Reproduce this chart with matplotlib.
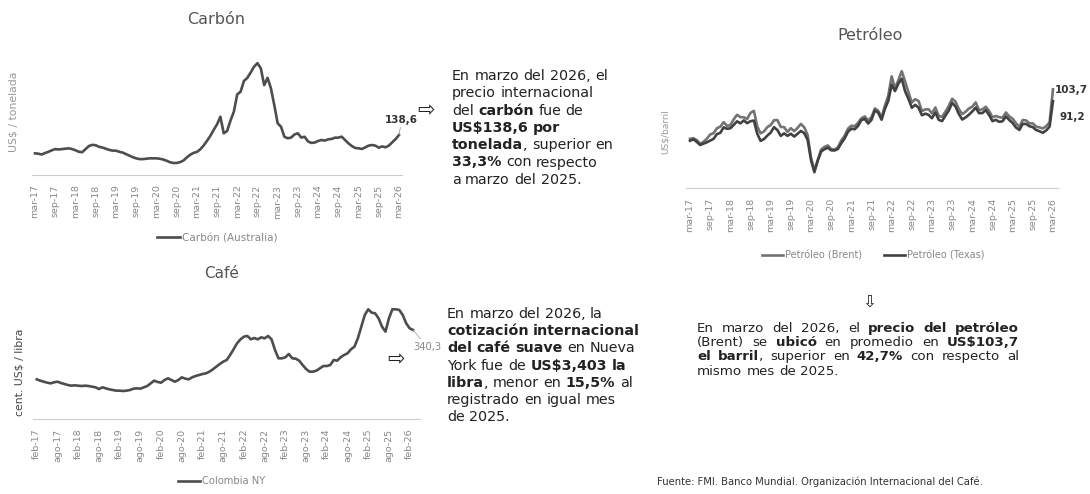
import numpy as np
import matplotlib.pyplot as plt
from matplotlib.font_manager import FontProperties

W, H = 1090, 494

# etiquetas del eje x (cada 6 meses)
carbon_ticks = ['mar-17', 'sep-17', 'mar-18', 'sep-18', 'mar-19', 'sep-19', 'mar-20',
                'sep-20', 'mar-21', 'sep-21', 'mar-22', 'sep-22', 'mar-23', 'sep-23',
                'mar-24', 'sep-24', 'mar-25', 'sep-25', 'mar-26']
cafe_ticks = ['feb-17', 'ago-17', 'feb-18', 'ago-18', 'feb-19', 'ago-19', 'feb-20',
              'ago-20', 'feb-21', 'ago-21', 'feb-22', 'ago-22', 'feb-23', 'ago-23',
              'feb-24', 'ago-24', 'feb-25', 'ago-25', 'feb-26']
petro_ticks = carbon_ticks

# Carbon (Australia), US$/tonelada, mar-17 .. mar-26
carbon = [91, 90, 88, 92, 95, 99, 102, 101, 102, 103, 104, 102,
          99, 95, 94, 102, 110, 113, 112, 108, 106, 103, 100, 98,
          98, 95, 93, 89, 85, 81, 78, 76, 76, 77, 78, 78,
          78, 77, 75, 72, 68, 66, 66, 68, 72, 80, 87, 92,
          94.5, 101, 111, 123, 136, 151.6, 166, 186, 143, 149, 176, 199,
          244, 251, 279, 287, 301, 316, 325, 312, 268, 287, 260, 216,
          169, 160, 134, 130, 132, 140, 143, 132, 134, 122, 118, 119,
          123, 125.6, 124, 127.4, 128.2, 131.7, 131.7, 134.3, 125.6, 117, 110, 105,
          104, 102.3, 106.6, 111, 112.6, 111, 105.7, 109, 106.6, 111, 119.6, 128,
          138.6]

# Cafe Colombia NY, cent. US$/libra, feb-17 .. mar-26
cafe = [162.7, 157.9, 154.3, 150.7, 148.3, 152.1, 154.3, 149.5, 145.9, 142.3, 139.9, 141.1,
        139.9, 138.7, 139.9, 138.7, 136.3, 134.0, 128.0, 134.0, 130.3, 126.7, 124.3, 122.0,
        122.0, 120.8, 122.0, 124.3, 129.1, 130.3, 129.1, 134.0, 138.7, 148.3, 157.9, 153.1,
        150.7, 160.3, 166.3, 160.3, 154.3, 160.3, 169.9, 165.1, 162.7, 169.9, 174.7, 178.3,
        181.9, 184.3, 190.3, 198.7, 208.3, 217.9, 226.3, 232.3, 250.3, 270.7, 292.3, 306.7,
        316.3, 318.7, 306.7, 311.5, 306.7, 313.9, 310.3, 318.7, 306.7, 268.3, 238.3, 238.3,
        241.9, 253.9, 238.3, 237.1, 229.9, 214.3, 199.9, 190.3, 190.3, 193.9, 202.3, 210.7,
        210.7, 214.3, 232.3, 229.9, 241.9, 250.3, 256.3, 270.7, 280.3, 310.3, 352.3, 394.3,
        414.7, 402.7, 400.3, 382.3, 352.3, 334.3, 382.3, 414.7, 414.7, 412.3, 394.3, 364.3,
        346.3, 340.3]

# Petroleo, US$/barril, mar-17 .. mar-26
brent = [51.6, 52.3, 50.3, 46.4, 48.5, 51.7, 56.2, 57.5, 62.7, 64.4,
         69.1, 65.3, 66.0, 72.1, 76.9, 74.4, 74.3, 72.5, 78.9, 81.0, 64.8, 57.4,
         59.4, 64.0, 66.1, 71.2, 71.3, 64.2, 63.9, 59.0, 62.8, 59.7, 63.2, 67.3,
         63.7, 55.7, 32.0, 18.4, 29.4, 40.3, 43.2, 44.7, 40.9, 40.2, 42.7, 49.9,
         54.8, 62.3, 65.4, 64.8, 68.5, 73.2, 75.2, 70.8, 74.5, 83.5, 81.1, 74.2,
         86.5, 97.1, 117.3, 104.6, 113.3, 122.7, 111.9, 100.5, 89.8, 93.3, 91.4, 80.9,
         82.5, 82.6, 78.4, 84.6, 75.5, 74.8, 80.1, 86.2, 93.7, 90.6, 82.9, 77.6,
         80.1, 83.5, 85.4, 89.9, 81.8, 82.6, 85.3, 80.9, 74.3, 75.6, 74.4, 73.8,
         79.3, 75.2, 72.7, 68.0, 64.2, 71.4, 71.0, 67.9, 67.9, 64.5, 63.6, 62.5,
         65.0, 69.0, 103.7]
texas = [49.6, 51.1, 48.5, 45.2, 46.6, 48.0, 49.8, 51.6, 56.6, 57.9,
         63.7, 62.2, 62.7, 66.3, 70.0, 67.9, 71.0, 68.1, 70.2, 70.8, 57.0, 49.5,
         51.4, 55.0, 58.2, 63.9, 60.8, 54.7, 57.4, 54.8, 57.0, 54.0, 57.0, 59.9,
         57.5, 50.5, 29.2, 16.6, 28.6, 38.3, 40.7, 42.3, 39.6, 39.4, 41.0, 47.0,
         52.0, 59.0, 62.3, 61.7, 65.2, 71.4, 72.5, 67.7, 71.6, 81.5, 79.2, 71.7,
         83.2, 91.6, 108.5, 101.8, 109.6, 114.8, 101.6, 93.7, 84.3, 87.3, 84.4, 76.4,
         78.1, 76.8, 73.3, 79.4, 71.6, 70.3, 76.0, 81.3, 89.4, 85.6, 77.7, 71.9,
         74.1, 77.0, 80.4, 84.4, 78.6, 78.7, 81.8, 76.7, 70.2, 71.6, 69.5, 70.1,
         75.1, 71.5, 68.2, 63.5, 61.0, 67.3, 67.3, 64.9, 63.9, 60.9, 59.6, 58.0,
         60.5, 64.5, 91.2]

fig = plt.figure(figsize=(10.9, 4.94), dpi=100)
fig.patch.set_facecolor('white')


def box(l, t, r, b):
    return [l / W, 1 - b / H, (r - l) / W, (b - t) / H]


def fx(x):
    return x / W


def fy(y):
    return 1 - y / H


def grafico(rect, series, colores, nombres, xlim, ylim, etiquetas):
    ax = fig.add_axes(rect)
    for v, c, n in zip(series, colores, nombres):
        ax.plot(np.arange(len(v)), v, color=c, lw=1.9, label=n, solid_joinstyle='round')
    ax.set_xlim(*xlim)
    ax.set_ylim(*ylim)
    ax.set_xticks(np.arange(0, 6 * len(etiquetas), 6))
    ax.set_xticklabels(etiquetas, rotation=90, fontsize=6.8, color='#888888')
    ax.tick_params(axis='x', length=0, pad=7)
    ax.set_yticks([])
    for s in ['top', 'right', 'left']:
        ax.spines[s].set_visible(False)
    ax.spines['bottom'].set_color('#cccccc')
    ax.spines['bottom'].set_linewidth(0.8)
    ax.spines['bottom'].set_linestyle((0, (2, 1)))
    ax.patch.set_alpha(0)
    return ax


# ---- Carbon
ax1 = grafico(box(32, 55.5, 402, 174.9), [carbon], ['#4d4d4d'], ['Carbón (Australia)'],
              (-0.9, 108.9), (35, 345), carbon_ticks)
ax1.annotate('138,6', xy=(len(carbon) - 1, carbon[-1]), xytext=(2, 11), textcoords='offset points',
             ha='center', va='center', fontsize=7.5, fontweight='bold', color='#333333',
             arrowprops=dict(arrowstyle='-', color='#999999', lw=0.6, shrinkA=0, shrinkB=0))
ax1.legend(loc='center', bbox_to_anchor=(fx(217), fy(238)), bbox_transform=fig.transFigure,
           frameon=False, fontsize=7.5, handlelength=2.2, labelcolor='#888888', handletextpad=0.2)
fig.text(fx(216), fy(20), 'Carbón', fontsize=11.5, color='#555555', ha='center', va='center')
fig.text(fx(14), fy(112), 'US$ / tonelada', fontsize=7.8, color='#999999', rotation=90,
         ha='center', va='center', parse_math=False)

# ---- Cafe
ax2 = grafico(box(33, 299.5, 420, 419), [cafe], ['#4d4d4d'], ['Colombia NY'],
              (-1.1, 111), (20, 450), cafe_ticks)
ax2.annotate('340,3', xy=(len(cafe) - 1, cafe[-1]), xytext=(10, -12), textcoords='offset points',
             ha='center', va='center', fontsize=7.2, color='#888888',
             arrowprops=dict(arrowstyle='-', color='#aaaaaa', lw=0.6, shrinkA=0, shrinkB=0))
ax2.legend(loc='center', bbox_to_anchor=(fx(222), fy(481)), bbox_transform=fig.transFigure,
           frameon=False, fontsize=7.2, handlelength=2.2, labelcolor='#888888', handletextpad=0.2)
fig.text(fx(222), fy(273), 'Café', fontsize=11, color='#555555', ha='center', va='center')
fig.text(fx(20), fy(372), 'cent. US$ / libra', fontsize=7.8, color='#444444', rotation=90,
         ha='center', va='center', parse_math=False)

# ---- Petroleo
ax3 = grafico(box(686, 54.7, 1058, 188), [brent, texas], ['#737373', '#414141'],
              ['Petróleo (Brent)', 'Petróleo (Texas)'], (-1.2, 109.5), (0, 140), petro_ticks)
ax3.legend(loc='center', bbox_to_anchor=(fx(873), fy(255)), bbox_transform=fig.transFigure,
           frameon=False, fontsize=7, handlelength=2.2, labelcolor='#888888', ncol=2,
           handletextpad=0.2, columnspacing=2.2)
fig.text(fx(1055), fy(90), '103,7', fontsize=7.5, fontweight='bold', color='#333333', va='center')
fig.text(fx(1060), fy(117), '91,2', fontsize=7.5, fontweight='bold', color='#333333', va='center')
fig.text(fx(870), fy(35), 'Petróleo', fontsize=11.5, color='#555555', ha='center', va='center')
fig.text(fx(665), fy(132), 'US$/barril', fontsize=6.5, color='#999999', rotation=90,
         ha='center', va='center', parse_math=False)

# ---- flechas
fig.text(fx(426), fy(110), '⇨', fontsize=15, color='#222222', ha='center', va='center')
fig.text(fx(396), fy(359), '⇨', fontsize=15, color='#222222', ha='center', va='center')
fig.text(fx(869), fy(302), '⇩', fontsize=12, color='#222222', ha='center', va='center')

# ---- textos con negrillas
renderer = fig.canvas.get_renderer()


def ancho(s, fp):
    return renderer.get_text_width_height_descent(s, fp, ismath=False)[0]


def palabras(linea):
    out = []
    esp = False
    for i, trozo in enumerate(linea.split('**')):
        negrilla = i % 2 == 1
        for j, w in enumerate(trozo.split(' ')):
            if j > 0:
                esp = True
            if w:
                out.append((w, negrilla, esp and len(out) > 0))
                esp = False
    return out


def parrafo(x0, y0, lineas, size, paso, derecha=None):
    reg = FontProperties(family='DejaVu Sans', size=size)
    neg = FontProperties(family='DejaVu Sans', size=size, weight='bold')
    sp = ancho('a a', reg) - ancho('aa', reg)
    for i, linea in enumerate(lineas):
        toks = palabras(linea)
        ws = [ancho(t, neg if b else reg) for t, b, s in toks]
        n = sum(1 for t in toks if t[2])
        gap = sp
        if derecha and i < len(lineas) - 1 and n:
            natural = sum(ws) + n * sp
            gap = sp + (derecha - x0 - natural) / n
        x = x0
        for (t, b, s), w in zip(toks, ws):
            if s:
                x += gap
            fig.text(fx(x), fy(y0 + i * paso + 5), t, fontproperties=neg if b else reg,
                     color='#222222', va='baseline', parse_math=False)
            x += w


texto_carbon = ['En marzo del 2026, el',
                'precio internacional',
                'del **carbón** fue de',
                '**US$138,6 por**',
                '**tonelada**, superior en',
                '**33,3%** con respecto',
                'a marzo del 2025.']
texto_cafe = ['En marzo del 2026, la',
              '**cotización internacional**',
              '**del café suave** en Nueva',
              'York fue de **US$3,403 la**',
              '**libra**, menor en **15,5%** al',
              'registrado en igual mes',
              'de 2025.']
texto_petro = ['En marzo del 2026, el **precio del petróleo**',
               '(Brent) se **ubicó** en promedio en **US$103,7**',
               '**el barril**, superior en **42,7%** con respecto al',
               'mismo mes de 2025.']

parrafo(452, 75, texto_carbon, 10.3, 17.3)
parrafo(447, 313, texto_cafe, 10.3, 17.2)
parrafo(697, 327, texto_petro, 9.6, 14.2, derecha=1019)

fig.text(fx(657), fy(482), 'Fuente: FMI. Banco Mundial. Organización Internacional del Café.',
         fontsize=7.2, color='#333333', va='center')

fig.savefig('out.png', dpi=100)
